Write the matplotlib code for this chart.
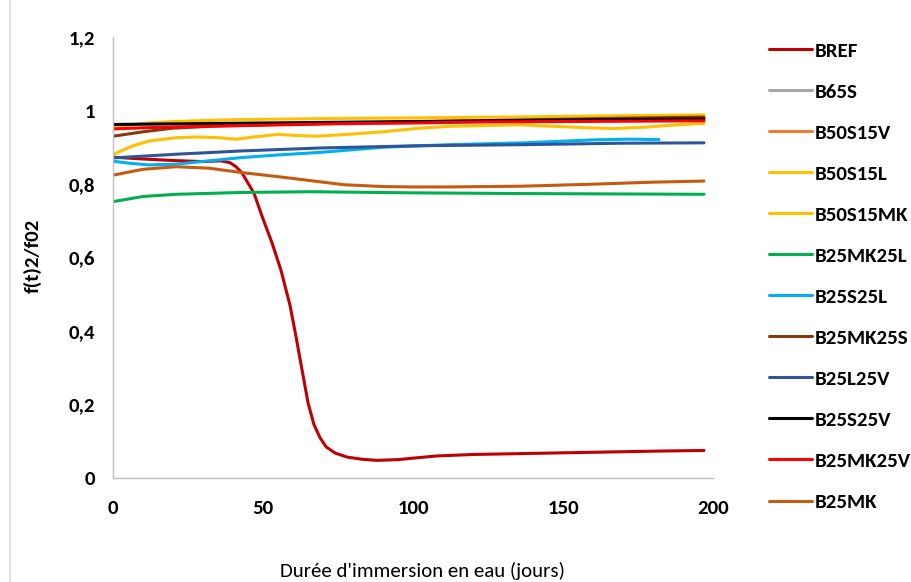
import matplotlib
matplotlib.use("Agg")
import matplotlib.pyplot as plt
from matplotlib import font_manager
from matplotlib.lines import Line2D

# ---- data: relative dynamic modulus f(t)^2/f0^2 vs. immersion time (days)
bref_days = [0, 10, 20, 30, 36, 39, 41, 43, 47, 50, 53, 56, 59, 61, 63, 65, 67, 69,
             71, 74, 78, 83, 88, 95, 100, 108, 120, 140, 160, 180, 197]
bref_vals = [0.873, 0.868, 0.864, 0.861, 0.863, 0.858, 0.847, 0.830, 0.775, 0.705,
             0.640, 0.565, 0.470, 0.385, 0.295, 0.205, 0.145, 0.110, 0.085, 0.068,
             0.057, 0.051, 0.048, 0.050, 0.054, 0.060, 0.064, 0.067, 0.070, 0.073, 0.075]

b65s_days = []
b65s_vals = []

b50s15v_days = []
b50s15v_vals = []

b50s15l_days = [0, 6, 12, 21, 28, 35, 41, 48, 55, 61, 68, 78, 90, 101, 112, 123,
                136, 147, 158, 167, 178, 188, 197]
b50s15l_vals = [0.880, 0.902, 0.917, 0.926, 0.928, 0.926, 0.922, 0.929, 0.935, 0.932,
                0.930, 0.935, 0.942, 0.951, 0.957, 0.959, 0.961, 0.957, 0.953, 0.951,
                0.955, 0.961, 0.965]

b50s15mk_days = [0, 10, 20, 40, 70, 100, 130, 160, 197]
b50s15mk_vals = [0.955, 0.965, 0.970, 0.975, 0.978, 0.980, 0.982, 0.985, 0.988]

b25mk25l_days = [0, 10, 21, 43, 66, 99, 136, 197]
b25mk25l_vals = [0.752, 0.766, 0.772, 0.777, 0.779, 0.776, 0.774, 0.772]

b25s25l_days = [0, 6, 12, 21, 32, 43, 55, 69, 90, 112, 137, 160, 172, 182]
b25s25l_vals = [0.862, 0.856, 0.852, 0.854, 0.863, 0.872, 0.879, 0.886, 0.900,
                0.907, 0.912, 0.920, 0.922, 0.921]

b25mk25s_days = [0, 10, 20, 35, 60, 100, 140, 170, 197]
b25mk25s_vals = [0.930, 0.942, 0.952, 0.958, 0.963, 0.969, 0.975, 0.979, 0.982]

b25l25v_days = [0, 21, 43, 69, 101, 137, 169, 197]
b25l25v_vals = [0.871, 0.881, 0.890, 0.898, 0.904, 0.907, 0.911, 0.912]

b25s25v_days = [0, 25, 50, 75, 100, 125, 150, 175, 197]
b25s25v_vals = [0.962, 0.964, 0.966, 0.968, 0.970, 0.972, 0.974, 0.976, 0.977]

b25mk25v_days = [0, 10, 25, 50, 75, 100, 125, 150, 175, 197]
b25mk25v_vals = [0.950, 0.953, 0.956, 0.960, 0.964, 0.966, 0.969, 0.970, 0.971, 0.972]

b25mk_days = [0, 10, 21, 32, 43, 55, 66, 77, 90, 100, 112, 136, 158, 180, 197]
b25mk_vals = [0.824, 0.840, 0.847, 0.843, 0.831, 0.820, 0.809, 0.798, 0.793, 0.792,
              0.792, 0.794, 0.799, 0.805, 0.808]

series_names = ["BREF", "B65S", "B50S15V", "B50S15L", "B50S15MK", "B25MK25L",
                "B25S25L", "B25MK25S", "B25L25V", "B25S25V", "B25MK25V", "B25MK"]
series_days = [bref_days, b65s_days, b50s15v_days, b50s15l_days, b50s15mk_days,
               b25mk25l_days, b25s25l_days, b25mk25s_days, b25l25v_days,
               b25s25v_days, b25mk25v_days, b25mk_days]
series_vals = [bref_vals, b65s_vals, b50s15v_vals, b50s15l_vals, b50s15mk_vals,
               b25mk25l_vals, b25s25l_vals, b25mk25s_vals, b25l25v_vals,
               b25s25v_vals, b25mk25v_vals, b25mk_vals]
series_colors = ["#C00000", "#A5A5A5", "#ED7D31", "#FFC000", "#FFC000", "#00B050",
                 "#00B0F0", "#843C0C", "#2F5597", "#000000", "#FF0000", "#C55A11"]

x_ticks = [0, 50, 100, 150, 200]
y_ticks = [0, 0.2, 0.4, 0.6, 0.8, 1.0, 1.2]
y_tick_labels = ["0", "0,2", "0,4", "0,6", "0,8", "1", "1,2"]

# ---- font: prefer a narrow sans if one is installed
installed = {f.name for f in font_manager.fontManager.ttflist}
candidates = ["Carlito", "Liberation Sans Narrow", "Roboto Condensed",
              "Open Sans Condensed", "Liberation Sans"]
family = next((c for c in candidates if c in installed), "DejaVu Sans")
plt.rcParams["font.family"] = [family, "DejaVu Sans"]

FS = 15

W, H = 911, 582
fig = plt.figure(figsize=(W / 100, H / 100), dpi=100)
fig.patch.set_facecolor("white")

# outer chart frame (left edge visible)
fig.add_artist(Line2D([10 / W, 10 / W], [0, 1], transform=fig.transFigure,
                      color="#D9D9D9", lw=1.2))

ax = fig.add_axes([113 / W, 1 - 478 / H, 600 / W, (478 - 37) / H])
for name, d, v, c in zip(series_names, series_days, series_vals, series_colors):
    ax.plot(d, v, color=c, lw=2.2, label=name, solid_joinstyle="round",
            solid_capstyle="round")

ax.set_xlim(0, 200)
ax.set_ylim(0, 1.2)
ax.set_xticks(x_ticks)
ax.set_xticklabels([str(t) for t in x_ticks])
ax.set_yticks(y_ticks)
ax.set_yticklabels(y_tick_labels)
ax.tick_params(length=0, labelsize=FS, colors="#000000")
ax.tick_params(axis="y", pad=13)
ax.tick_params(axis="x", pad=16)
for lbl in ax.get_xticklabels() + ax.get_yticklabels():
    lbl.set_fontweight("bold")

for s in ["top", "right"]:
    ax.spines[s].set_visible(False)
for s in ["left", "bottom"]:
    ax.spines[s].set_color("#BFBFBF")
    ax.spines[s].set_linewidth(1.0)

fig.text(33 / W, 1 - 256 / H, "f(t)2/f02", rotation=90, ha="center", va="center",
         fontsize=FS, fontweight="bold")
fig.text(422 / W, 1 - 571 / H, "Durée d'immersion en eau (jours)", ha="center",
         va="center", fontsize=FS)

leg = ax.legend(loc="upper left", bbox_to_anchor=(769 / W, 1 - 42 / H),
                bbox_transform=fig.transFigure, frameon=False, fontsize=FS,
                handlelength=2.06, handletextpad=0.15, labelspacing=1.125,
                borderaxespad=0, borderpad=0)
for t in leg.get_texts():
    t.set_fontweight("bold")

fig.savefig("out.png", dpi=100, facecolor="white")
